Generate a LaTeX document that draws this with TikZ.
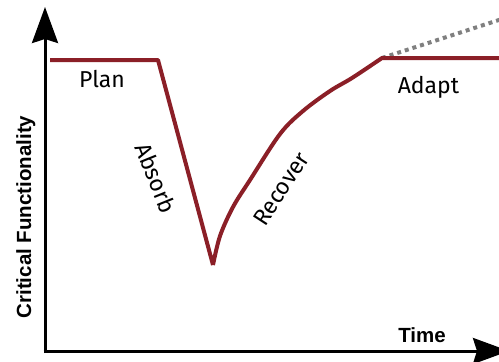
\documentclass[tikz,border=0pt]{standalone}
\usepackage{fontspec}
\setmainfont{Fira Sans}
\newfontfamily\axisfont{Liberation Sans}
\usetikzlibrary{arrows.meta}
\definecolor{curvered}{HTML}{8B1F27}
\definecolor{dotgray}{HTML}{808080}
\tikzset{
  axisline/.style={line width=3pt, -{Stealth[length=36pt, width=26pt, inset=4pt]}},
  curveline/.style={line width=4pt, curvered, line join=round},
  dotline/.style={line width=4pt, dotgray, dash pattern=on 4pt off 4pt},
  phase/.style={font=\fontsize{23}{26}\selectfont, inner sep=0pt, anchor=base},
  axislabel/.style={font=\axisfont\bfseries\fontsize{20.5}{23}\selectfont, inner sep=0pt, anchor=base}
}
\begin{document}
\begin{tikzpicture}[x=1pt,y=-1pt]
\useasboundingbox (0,0) rectangle (499,362);
% axes
\coordinate (origin) at (45,351);
\coordinate (ytip) at (45,7);
\coordinate (xtip) at (509,351);
\draw[axisline] (45,353) -- (ytip);
\draw[axisline] (43.5,351) -- (xtip);
% dotted projection
\coordinate (adaptstart) at (382,58);
\coordinate (dotend) at (502,19);
\draw[dotline] (adaptstart) -- (dotend);
% curve
\coordinate (start) at (50,60);
\coordinate (drop) at (158,60);
\coordinate (bottom) at (213,265);
\coordinate (finish) at (502,58);
\draw[curveline] (start) -- (drop) -- (bottom)
  plot[smooth, tension=0.55] coordinates {(213,265) (220,236) (233,207) (250,180) (280,134) (303,111) (330,91) (352,78) (382,58)}
  -- (finish);
% labels
\node[phase] (plan) at (102,87) {Plan};
\node[phase] (adapt) at (428.5,93) {Adapt};
\node[phase, anchor=center, rotate=-68] (absorb) at (156,178) {Absorb};
\node[phase, anchor=center, rotate=57] (recover) at (281,189) {Recover};
\node[axislabel] (time) at (422,342) {Time};
\node[axislabel, rotate=90] (cf) at (31,217) {Critical Functionality};
\end{tikzpicture}
\end{document}
